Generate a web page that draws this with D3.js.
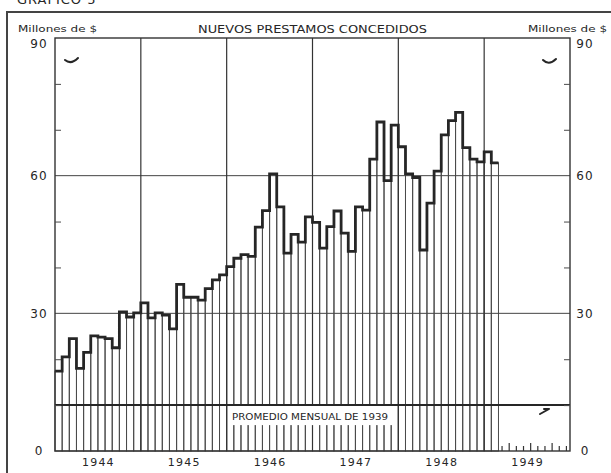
<!DOCTYPE html>
<html>
<head>
<meta charset="utf-8">
<script src="https://cdn.jsdelivr.net/npm/d3@7"></script>
<style>
  body { margin: 0; background: #fff; }
  svg { display: block; font-family: "DejaVu Sans", sans-serif; }
</style>
</head>
<body>
<svg id="chart" width="611" height="473"></svg>
<script>
// values, millions of $ per month
const years = [1944, 1945, 1946, 1947, 1948, 1949];
const loans1944 = [17.4, 20.5, 24.5, 18.0, 21.5, 25.1, 24.8, 24.5, 22.5, 30.3, 29.2, 30.1];
const loans1945 = [32.3, 29.0, 30.1, 29.6, 26.6, 36.3, 33.5, 33.5, 32.9, 35.4, 37.3, 38.4];
const loans1946 = [40.2, 42.0, 42.8, 42.4, 48.8, 52.4, 60.4, 53.2, 43.1, 47.2, 45.5, 51.0];
const loans1947 = [49.8, 44.2, 48.9, 52.3, 47.5, 43.5, 53.2, 52.5, 63.6, 71.7, 58.9, 71.0];
const loans1948 = [66.3, 60.4, 59.6, 43.8, 54.0, 61.0, 68.9, 72.0, 73.8, 66.1, 63.6, 63.0];
const loans1949 = [65.2, 62.8];
const majorTicks = [0, 30, 60, 90];
const minorTicks = [10, 20, 40, 50, 70, 80];
const average1939 = 10;
const averageLabel = "PROMEDIO MENSUAL DE 1939";
const chartTitle = "NUEVOS PRESTAMOS CONCEDIDOS";
const unitLabel = "Millones de $";
const figureLabel = "GRAFICO 5";

const values = [].concat(loans1944, loans1945, loans1946, loans1947, loans1948, loans1949);

const ink = "#262626";
const thin = "#4a4a4a";
const plot = { left: 55, right: 570, top: 38, bottom: 451 };

const svg = d3.select("#chart");

const x = d3.scaleLinear()
  .domain([0, years.length * 12])
  .range([plot.left, plot.right]);
const y = d3.scaleLinear()
  .domain([0, 90])
  .range([plot.bottom, plot.top]);

// outer frame of the figure
svg.append("path")
  .attr("d", "M7,480 V12 H620")
  .attr("fill", "none")
  .attr("stroke", "#444")
  .attr("stroke-width", 2);

svg.append("text")
  .attr("x", 17).attr("y", 4)
  .attr("font-size", 13)
  .attr("letter-spacing", 1)
  .attr("fill", ink)
  .text(figureLabel);

// monthly bars, thin outlines
svg.append("g").selectAll("rect")
  .data(values)
  .join("rect")
  .attr("x", (d, i) => x(i))
  .attr("y", d => y(d))
  .attr("width", (d, i) => x(i + 1) - x(i))
  .attr("height", d => y(0) - y(d))
  .attr("fill", "none")
  .attr("stroke", thin)
  .attr("stroke-width", 1);

// horizontal gridlines
svg.append("g").selectAll("line")
  .data([30, 60])
  .join("line")
  .attr("x1", plot.left).attr("x2", plot.right)
  .attr("y1", d => y(d)).attr("y2", d => y(d))
  .attr("stroke", "#444")
  .attr("stroke-width", 1);

// year dividers
svg.append("g").selectAll("line")
  .data(years.slice(1))
  .join("line")
  .attr("x1", (d, i) => x((i + 1) * 12)).attr("x2", (d, i) => x((i + 1) * 12))
  .attr("y1", plot.top).attr("y2", plot.bottom)
  .attr("stroke", "#333")
  .attr("stroke-width", 1.2);

// small month ticks for the rest of 1949
const restMonths = d3.range(values.length, years.length * 12);
svg.append("g").selectAll("line")
  .data(restMonths)
  .join("line")
  .attr("x1", d => x(d + 0.5)).attr("x2", d => x(d + 0.5))
  .attr("y1", plot.bottom)
  .attr("y2", (d, i) => plot.bottom - (i % 3 === 1 ? 8 : 5))
  .attr("stroke", "#333")
  .attr("stroke-width", 1.2);

// label of the 1939 average sits on a white patch
svg.append("rect")
  .attr("x", 229).attr("y", y(average1939))
  .attr("width", 163).attr("height", 20)
  .attr("fill", "#fff");

svg.append("text")
  .attr("x", 232).attr("y", 420)
  .attr("font-size", 8.5)
  .attr("textLength", 156)
  .attr("lengthAdjust", "spacingAndGlyphs")
  .attr("fill", ink)
  .text(averageLabel);

// 1939 average line
svg.append("line")
  .attr("x1", plot.left).attr("x2", plot.right)
  .attr("y1", y(average1939)).attr("y2", y(average1939))
  .attr("stroke", ink)
  .attr("stroke-width", 2);

// step outline of the monthly series
const stepPoints = values.map((d, i) => [i, d]).concat([[values.length, values[values.length - 1]]]);
svg.append("path")
  .datum(stepPoints)
  .attr("d", d3.line()
    .x(d => x(d[0]))
    .y(d => y(d[1]))
    .curve(d3.curveStepAfter))
  .attr("fill", "none")
  .attr("stroke", ink)
  .attr("stroke-width", 2.8)
  .attr("stroke-linejoin", "miter");

// plot frame
svg.append("rect")
  .attr("x", plot.left).attr("y", plot.top)
  .attr("width", plot.right - plot.left)
  .attr("height", plot.bottom - plot.top)
  .attr("fill", "none")
  .attr("stroke", "#333")
  .attr("stroke-width", 1.4);

// minor ticks, inside on both sides
svg.append("g")
  .attr("transform", `translate(${plot.left},0)`)
  .call(d3.axisRight(y).tickValues(minorTicks).tickSize(6).tickFormat(""))
  .call(g => g.select(".domain").remove())
  .selectAll("line").attr("stroke", thin);
svg.append("g")
  .attr("transform", `translate(${plot.right},0)`)
  .call(d3.axisLeft(y).tickValues(minorTicks).tickSize(6).tickFormat(""))
  .call(g => g.select(".domain").remove())
  .selectAll("line").attr("stroke", thin);

// value labels; the top one sits a little below its line
const styleLabels = g => {
  g.select(".domain").remove();
  g.selectAll("line").remove();
  g.selectAll("text")
    .attr("font-family", "DejaVu Sans, sans-serif")
    .attr("font-size", 12)
    .attr("letter-spacing", 1)
    .attr("fill", ink)
    .attr("text-anchor", "middle")
    .attr("dy", d => d === 90 ? "0.75em" : "0.32em");
};
svg.append("g")
  .attr("transform", "translate(39,0)")
  .call(d3.axisLeft(y).tickValues(majorTicks).tickSize(0).tickPadding(0))
  .call(styleLabels);
svg.append("g")
  .attr("transform", "translate(585,0)")
  .call(d3.axisRight(y).tickValues(majorTicks).tickSize(0).tickPadding(0))
  .call(styleLabels);

// year labels centred under each year
svg.append("g")
  .attr("transform", `translate(0,${plot.bottom})`)
  .call(d3.axisBottom(x)
    .tickValues(years.map((d, i) => i * 12 + 6))
    .tickFormat((d, i) => years[i])
    .tickSize(0).tickPadding(7))
  .call(g => {
    g.select(".domain").remove();
    g.selectAll("text")
      .attr("font-family", "DejaVu Sans, sans-serif")
      .attr("font-size", 11)
      .attr("letter-spacing", 1.2)
      .attr("fill", ink);
  });

// headings
svg.append("text")
  .attr("x", (plot.left + plot.right) / 2).attr("y", 33)
  .attr("text-anchor", "middle")
  .attr("font-size", 10.5)
  .attr("textLength", 229)
  .attr("lengthAdjust", "spacingAndGlyphs")
  .attr("fill", ink)
  .text(chartTitle);
svg.append("text")
  .attr("x", 18).attr("y", 32)
  .attr("font-size", 9.5)
  .attr("textLength", 79)
  .attr("lengthAdjust", "spacingAndGlyphs")
  .attr("fill", ink)
  .text(unitLabel);
svg.append("text")
  .attr("x", 528).attr("y", 32)
  .attr("font-size", 9.5)
  .attr("textLength", 79)
  .attr("lengthAdjust", "spacingAndGlyphs")
  .attr("fill", ink)
  .text(unitLabel);

// small printed hooks in the corners of the scan
const hooks = [
  "M65,60 Q71,65 78,58",
  "M543,60 Q549,66 556,59",
  "M540,414 L549,409 M544,409 L549,409"
];
svg.append("g").selectAll("path")
  .data(hooks)
  .join("path")
  .attr("d", d => d)
  .attr("fill", "none")
  .attr("stroke", ink)
  .attr("stroke-width", 2)
  .attr("stroke-linecap", "round");
</script>
</body>
</html>
